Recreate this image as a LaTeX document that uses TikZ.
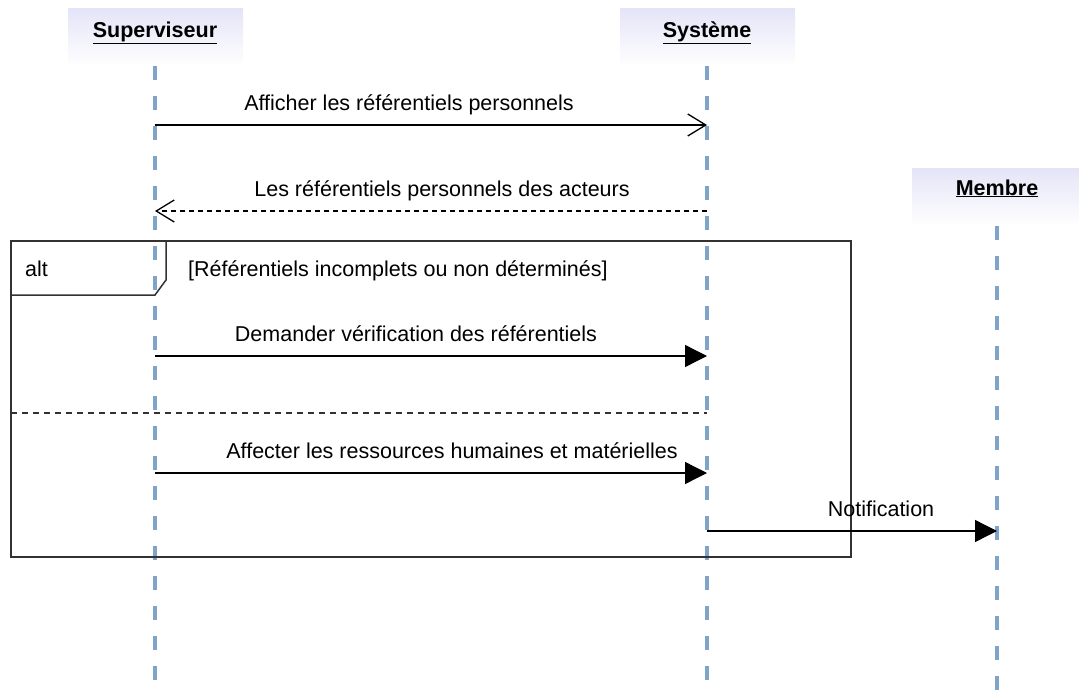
\documentclass[tikz,border=0pt]{standalone}
\usepackage{fontspec}
\setmainfont{Liberation Sans}
\usetikzlibrary{arrows.meta}
\definecolor{hd}{RGB}{228,228,248}
\definecolor{lifec}{RGB}{128,163,200}
\definecolor{framec}{RGB}{50,50,50}
\begin{document}
\begin{tikzpicture}[x=1pt,y=-1pt,
  head/.style={minimum width=175pt,minimum height=58pt,top color=hd,bottom color=white,draw=none,inner sep=0pt},
  headtxt/.style={font=\fontsize{21.5}{24}\selectfont\bfseries,inner sep=0pt,anchor=base},
  life/.style={draw=lifec,line width=4pt,dash pattern=on 14pt off 16pt},
  msg/.style={line width=1.3pt,draw=black},
  openarr/.style={-{Straight Barb[length=18pt,width=22pt,line width=1.3pt]}},
  fillarr/.style={-{Triangle[length=22pt,width=22pt]}},
  lbl/.style={font=\fontsize{21.5}{24}\selectfont,inner sep=0pt,anchor=base},
  frame/.style={draw=framec,line width=1.5pt}
]
\useasboundingbox (0,0) rectangle (1079,696);

% headers
\node[head] (supbox) at (155.5,37) {};
\node[head] (sysbox) at (707.5,37) {};
\node[head,minimum width=170pt] (membox) at (997,197) {};
\node[headtxt] (suptxt) at (155,37) {\underline{Superviseur}};
\node[headtxt] (systxt) at (707,37) {\underline{Système}};
\node[headtxt] (memtxt) at (997,195) {\underline{Membre}};

% lifelines
\coordinate (supend) at (155,700);
\coordinate (sysend) at (707,700);
\coordinate (memend) at (997,700);
\draw[life] (155,66) -- (supend);
\draw[life] (707,66) -- (sysend);
\draw[life] (997,226) -- (memend);

% message points
\coordinate (s1) at (155,125); \coordinate (y1) at (707,125);
\coordinate (s2) at (155,211); \coordinate (y2) at (707,211);
\coordinate (s3) at (155,356); \coordinate (y3) at (707,356);
\coordinate (s4) at (155,473); \coordinate (y4) at (707,473);
\coordinate (y5) at (707,531); \coordinate (m5) at (997,531);

% alt frame
\coordinate (fa) at (11,241); \coordinate (fb) at (851,557);
\draw[frame] (fa) rectangle (fb);
\draw[frame] (11,295) -- (155,295) -- (166,280) -- (166,241);
\node[lbl,anchor=base west] (alt) at (25,276) {alt};
\node[lbl,anchor=base west] (guard) at (188,276) {[Référentiels incomplets ou non déterminés]};
\coordinate (sepa) at (11,413); \coordinate (sepb) at (707,413);
\draw[draw=framec,line width=1.5pt,dash pattern=on 6pt off 5pt] (sepa) -- (sepb);

% messages
\draw[msg,openarr] (s1) -- (y1);
\node[lbl] (l1) at (409,110) {Afficher les référentiels personnels};
\draw[msg,openarr,dash pattern=on 5pt off 4pt] (y2) -- (s2);
\node[lbl] (l2) at (442,196) {Les référentiels personnels des acteurs};
\draw[msg,fillarr] (s3) -- (y3);
\node[lbl] (l3) at (416,341) {Demander vérification des référentiels};
\draw[msg,fillarr] (s4) -- (y4);
\node[lbl] (l4) at (452,458) {Affecter les ressources humaines et matérielles};
\draw[msg,fillarr] (y5) -- (m5);
\node[lbl] (l5) at (881,516) {Notification};
\end{tikzpicture}
\end{document}
